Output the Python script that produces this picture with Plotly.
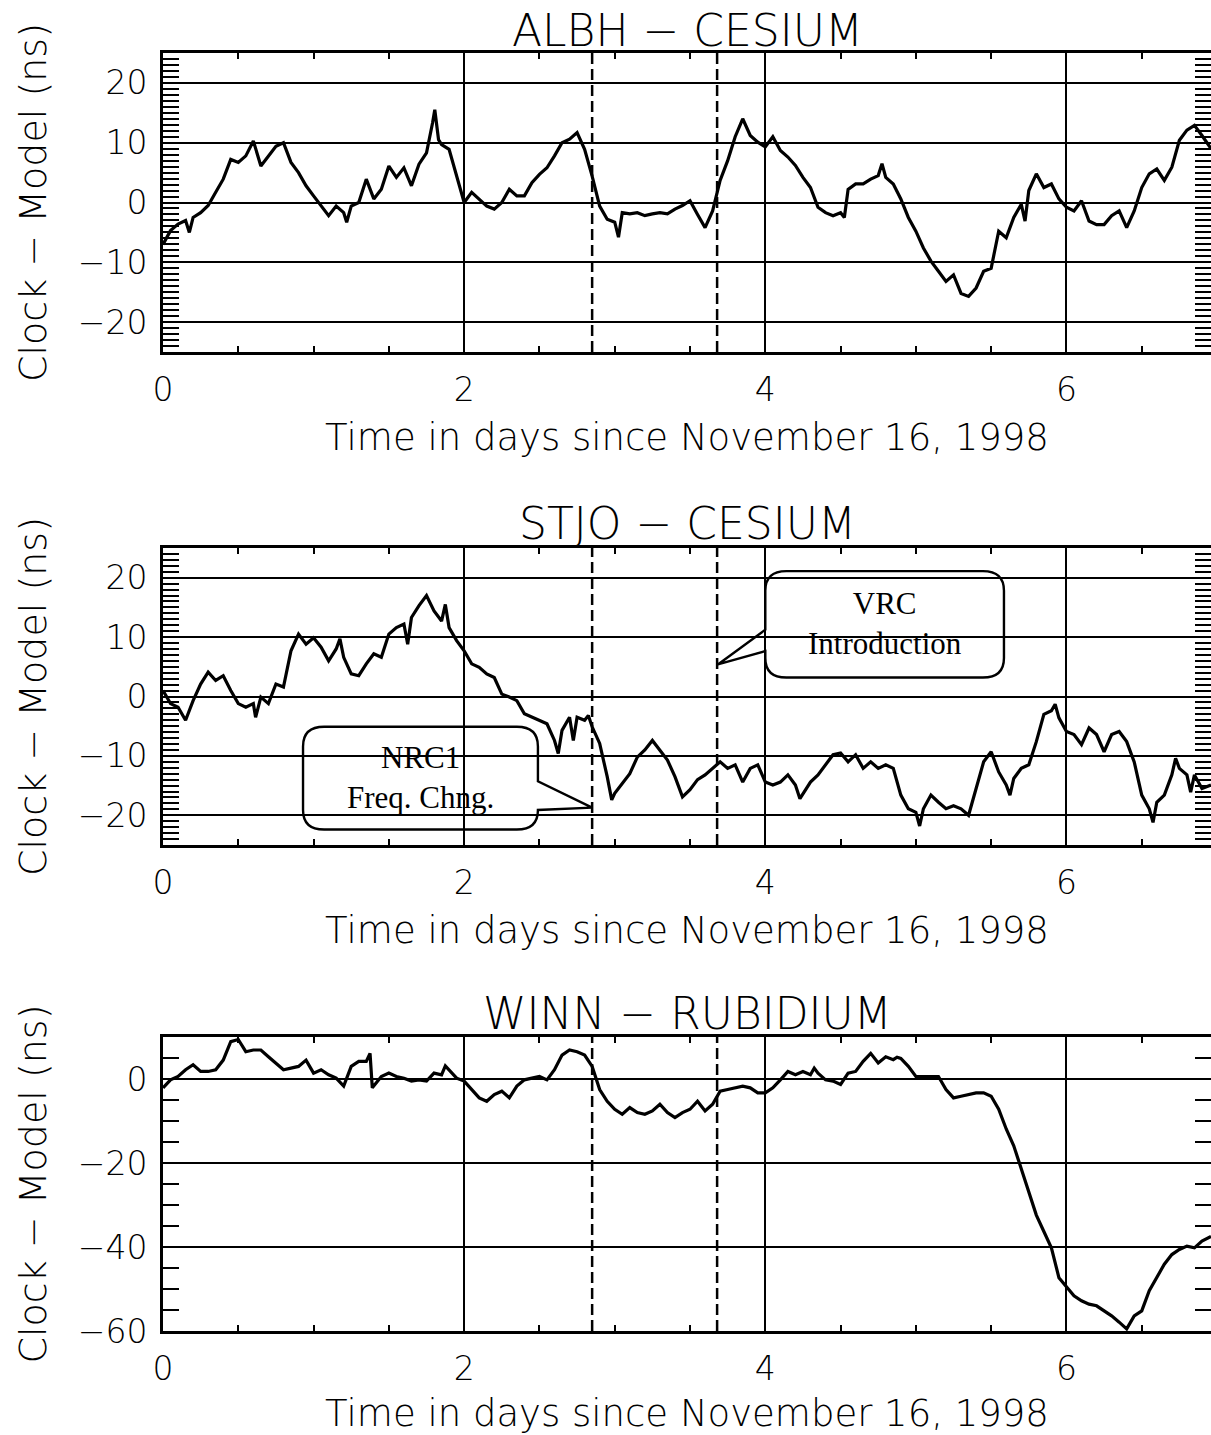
import plotly.graph_objects as go

# ---------------- data ----------------
albh_days = [0, 0.05, 0.10, 0.15, 0.175, 0.2, 0.25, 0.3, 0.35, 0.4, 0.45, 0.5, 0.55, 0.6, 0.65, 0.7,
             0.75, 0.8, 0.85, 0.9, 0.95, 1.0, 1.05, 1.1, 1.15, 1.2, 1.22, 1.25, 1.3, 1.35, 1.4, 1.45,
             1.5, 1.55, 1.6, 1.65, 1.7, 1.75, 1.79, 1.805, 1.83, 1.85, 1.9, 1.95, 2.0, 2.05, 2.1, 2.15,
             2.2, 2.25, 2.3, 2.35, 2.4, 2.45, 2.5, 2.55, 2.6, 2.65, 2.7, 2.75, 2.8, 2.85, 2.9, 2.95,
             3.0, 3.025, 3.05, 3.1, 3.15, 3.2, 3.25, 3.3, 3.35, 3.4, 3.45, 3.5, 3.55, 3.6, 3.65, 3.7,
             3.75, 3.8, 3.85, 3.9, 3.95, 4.0, 4.05, 4.1, 4.15, 4.2, 4.25, 4.3, 4.35, 4.4, 4.45, 4.5,
             4.525, 4.55, 4.6, 4.65, 4.7, 4.75, 4.775, 4.8, 4.85, 4.9, 4.95, 5.0, 5.05, 5.1, 5.15, 5.2,
             5.25, 5.3, 5.35, 5.4, 5.45, 5.5, 5.55, 5.6, 5.65, 5.7, 5.725, 5.75, 5.8, 5.85, 5.9, 5.95,
             6.0, 6.05, 6.1, 6.15, 6.2, 6.25, 6.3, 6.35, 6.4, 6.45, 6.5, 6.55, 6.6, 6.65, 6.7, 6.75,
             6.8, 6.85, 6.9, 6.96]
albh_ns = [-7.0, -4.7, -3.6, -3.0, -5.0, -2.5, -1.7, -0.5, 1.7, 3.9, 7.2, 6.7, 7.8, 10.3, 6.1, 7.8,
           9.4, 10.0, 6.7, 5.0, 2.8, 1.1, -0.6, -2.2, -0.6, -1.7, -3.3, -0.6, 0.0, 3.9, 0.6, 2.2,
           6.1, 4.2, 5.8, 2.8, 6.4, 8.3, 13.3, 15.5, 10.5, 9.7, 8.9, 4.4, 0.0, 1.7, 0.6, -0.6,
           -1.1, 0.0, 2.2, 1.1, 1.1, 3.3, 4.7, 5.8, 7.8, 10.0, 10.6, 11.7, 8.9, 4.4, -0.6, -2.8,
           -3.3, -5.8, -1.7, -1.9, -1.7, -2.2, -1.9, -1.7, -1.9, -1.1, -0.5, 0.3, -2.0, -4.2, -1.4, 3.7,
           7.0, 11.0, 14.0, 11.2, 10.1, 9.3, 11.0, 8.7, 7.6, 6.2, 4.2, 2.5, -0.8, -1.7, -2.2, -1.7,
           -2.5, 2.2, 3.1, 3.1, 3.9, 4.5, 6.5, 4.2, 3.1, 0.6, -2.5, -4.8, -7.6, -9.8, -11.5, -13.2,
           -12.1, -15.2, -15.7, -14.3, -11.5, -11.0, -4.8, -5.9, -2.5, -0.3, -3.1, 2.0, 4.8, 2.5, 3.1, 0.6,
           -0.8, -1.4, 0.3, -3.1, -3.7, -3.7, -2.2, -1.4, -4.2, -1.4, 2.5, 4.8, 5.6, 3.7, 5.9, 10.4,
           12.1, 12.9, 11.2, 9.0]

stjo_days = [0, 0.05, 0.1, 0.15, 0.2, 0.25, 0.3, 0.35, 0.4, 0.45, 0.5, 0.55, 0.6, 0.615, 0.65, 0.7,
             0.75, 0.8, 0.85, 0.9, 0.95, 1.0, 1.05, 1.1, 1.15, 1.175, 1.2, 1.25, 1.3, 1.35, 1.4, 1.45,
             1.5, 1.55, 1.6, 1.625, 1.65, 1.7, 1.75, 1.8, 1.85, 1.875, 1.9, 1.95, 2.0, 2.05, 2.1, 2.15,
             2.2, 2.25, 2.3, 2.35, 2.4, 2.45, 2.5, 2.55, 2.6, 2.625, 2.65, 2.7, 2.725, 2.75, 2.8, 2.825,
             2.85, 2.9, 2.95, 2.98, 3.0, 3.05, 3.1, 3.15, 3.2, 3.25, 3.3, 3.35, 3.4, 3.45, 3.5, 3.55,
             3.6, 3.65, 3.7, 3.75, 3.8, 3.85, 3.9, 3.95, 4.0, 4.05, 4.1, 4.15, 4.2, 4.23, 4.3, 4.35,
             4.4, 4.45, 4.5, 4.55, 4.6, 4.65, 4.7, 4.75, 4.8, 4.85, 4.9, 4.95, 5.0, 5.025, 5.05, 5.1,
             5.15, 5.2, 5.25, 5.3, 5.35, 5.4, 5.45, 5.5, 5.55, 5.6, 5.625, 5.65, 5.7, 5.75, 5.8, 5.85,
             5.9, 5.925, 5.95, 6.0, 6.05, 6.1, 6.15, 6.2, 6.25, 6.3, 6.35, 6.4, 6.45, 6.5, 6.55, 6.575,
             6.6, 6.65, 6.7, 6.725, 6.75, 6.8, 6.825, 6.85, 6.9, 6.96]
stjo_ns = [1.0, -1.2, -1.8, -4.0, -0.7, 2.1, 4.1, 2.7, 3.5, 1.0, -1.2, -1.8, -1.2, -3.5, -0.1, -1.2,
           2.1, 1.6, 7.7, 10.5, 8.8, 9.9, 8.3, 6.0, 8.0, 9.7, 6.6, 3.8, 3.5, 5.5, 7.2, 6.6,
           10.5, 11.6, 12.2, 8.8, 13.3, 15.3, 17.0, 14.4, 12.7, 15.5, 11.6, 9.4, 7.7, 5.5, 4.9, 3.8,
           3.2, 0.4, -0.1, -0.7, -2.9, -3.5, -4.0, -4.6, -7.4, -9.6, -5.7, -3.5, -7.4, -3.5, -4.0, -3.2,
           -5.1, -7.9, -13.5, -17.4, -16.3, -14.6, -13.0, -10.2, -9.0, -7.4, -9.0, -10.7, -13.5, -16.9, -15.7, -14.0,
           -13.2, -12.1, -11.0, -12.1, -11.5, -14.4, -12.1, -11.5, -14.4, -14.9, -14.4, -13.2, -14.9, -17.2, -14.4, -13.2,
           -11.5, -9.8, -9.5, -11.0, -9.8, -12.1, -11.0, -12.1, -11.5, -12.1, -16.6, -18.9, -19.5, -21.8, -18.9, -16.6,
           -17.8, -18.9, -18.4, -18.9, -20.0, -15.5, -11.0, -9.3, -12.7, -14.9, -16.6, -13.8, -12.1, -11.5, -7.6, -3.0,
           -2.4, -1.3, -3.6, -5.9, -6.4, -8.1, -5.3, -6.4, -9.3, -6.4, -5.9, -7.6, -11.0, -16.6, -18.9, -21.2,
           -17.8, -16.6, -13.2, -10.4, -12.1, -13.2, -16.1, -13.2, -15.5, -14.9]

winn_days = [0, 0.05, 0.1, 0.15, 0.2, 0.25, 0.3, 0.35, 0.4, 0.45, 0.5, 0.55, 0.6, 0.65, 0.7, 0.75,
             0.8, 0.85, 0.9, 0.95, 1.0, 1.05, 1.1, 1.15, 1.2, 1.25, 1.3, 1.35, 1.375, 1.39, 1.45, 1.5,
             1.55, 1.6, 1.65, 1.7, 1.75, 1.8, 1.85, 1.875, 1.9, 1.95, 2.0, 2.05, 2.1, 2.15, 2.2, 2.25,
             2.3, 2.35, 2.4, 2.45, 2.5, 2.55, 2.6, 2.65, 2.7, 2.75, 2.8, 2.85, 2.9, 2.95, 3.0, 3.05,
             3.1, 3.15, 3.2, 3.25, 3.3, 3.35, 3.4, 3.45, 3.5, 3.55, 3.6, 3.65, 3.7, 3.75, 3.8, 3.85,
             3.9, 3.95, 4.0, 4.05, 4.1, 4.15, 4.2, 4.25, 4.3, 4.325, 4.35, 4.4, 4.45, 4.5, 4.55, 4.6,
             4.65, 4.7, 4.75, 4.8, 4.85, 4.875, 4.9, 4.95, 5.0, 5.05, 5.1, 5.15, 5.2, 5.25, 5.3, 5.35,
             5.4, 5.45, 5.5, 5.55, 5.6, 5.65, 5.7, 5.75, 5.8, 5.85, 5.9, 5.95, 6.0, 6.05, 6.1, 6.15,
             6.2, 6.25, 6.3, 6.35, 6.4, 6.45, 6.5, 6.55, 6.6, 6.65, 6.7, 6.75, 6.8, 6.85, 6.9, 6.96]
winn_ns = [-2.1, -0.2, 0.6, 2.2, 3.4, 1.8, 1.8, 2.2, 4.5, 8.9, 9.4, 6.5, 6.9, 6.9, 5.3, 3.8,
           2.2, 2.6, 3.0, 4.5, 1.4, 2.2, 1.0, 0.2, -1.7, 3.0, 4.2, 4.2, 6.1, -2.1, 0.6, 1.4,
           0.6, 0.2, -0.5, -0.2, -0.5, 1.4, 1.0, 3.1, 2.2, 0.2, -0.5, -2.5, -4.5, -5.3, -3.7, -2.9,
           -4.5, -1.7, -0.2, 0.2, 0.6, -0.2, 2.2, 5.7, 6.9, 6.5, 5.7, 3.0, -2.5, -5.3, -7.2, -8.4,
           -6.8, -8.0, -8.4, -7.6, -6.0, -8.0, -9.2, -8.0, -7.2, -5.3, -7.6, -6.0, -2.9, -2.5, -2.1, -1.7,
           -2.1, -3.3, -3.3, -2.1, -0.2, 1.8, 1.0, 1.8, 1.0, 2.6, 1.4, -0.2, -0.5, -1.3, 1.4, 1.8,
           4.2, 6.1, 3.8, 5.3, 4.6, 5.2, 4.9, 3.0, 0.6, 0.6, 0.6, 0.6, -2.5, -4.5, -4.1, -3.7,
           -3.3, -3.3, -4.1, -7.2, -11.9, -15.9, -21.4, -26.9, -32.4, -36.3, -40.2, -47.3, -49.6, -51.6, -52.8, -53.6,
           -54.0, -55.2, -56.4, -57.9, -59.5, -56.4, -55.2, -50.4, -47.3, -44.1, -41.8, -40.6, -39.8, -40.2, -38.6, -37.5]

panel_titles = ["ALBH \u2212 CESIUM", "STJO \u2212 CESIUM", "WINN \u2212 RUBIDIUM"]
x_title = "Time in days since November 16, 1998"
y_title = "Clock \u2212 Model (ns)"
x_ticks = [0, 2, 4, 6]
event_days = [2.85, 3.68]

# ---------------- layout geometry ----------------
W, H = 1211, 1435
X_RANGE = [0, 6.96]
panels = [
    # (top px, bottom px, y range, major dtick, minor dtick)
    (53, 352, [-25, 25], 10, 1),
    (548, 845, [-25, 25], 10, 1),
    (1037, 1331, [-60, 10], 20, 5),
]
series = [(albh_days, albh_ns), (stjo_days, stjo_ns), (winn_days, winn_ns)]
title_py = [30, 523, 1013]

SANS = "DejaVu Sans"
SERIF = "Liberation Serif"
LIGHT = 200


def sans(size):
    return dict(family=SANS, size=size, color="black", weight=LIGHT)


fig = go.Figure()
layout = dict(
    width=W, height=H,
    margin=dict(l=163, r=0, t=0, b=0, autoexpand=False),
    paper_bgcolor="white", plot_bgcolor="white",
    showlegend=False,
    font=dict(family=SANS, color="black"),
)

for i, ((top, bot, yr, dt, mdt), (dx, dy)) in enumerate(zip(panels, series)):
    n = "" if i == 0 else str(i + 1)
    fig.add_trace(go.Scatter(x=dx, y=dy, mode="lines",
                             line=dict(color="black", width=3.2),
                             xaxis="x" + n, yaxis="y" + n, hoverinfo="x+y"))
    layout["xaxis" + n] = dict(
        domain=[0, 1], anchor="y" + n, range=X_RANGE, automargin=False,
        tickmode="array", tickvals=x_ticks, ticktext=[str(v) for v in x_ticks],
        ticks="inside", ticklen=6, tickwidth=2, tickcolor="black",
        minor=dict(dtick=0.5, tick0=0, ticks="inside", ticklen=6, tickwidth=2,
                   tickcolor="black", showgrid=False),
        showgrid=True, gridcolor="black", gridwidth=2, zeroline=False,
        showline=True, linecolor="black", linewidth=3, mirror="ticks",
        tickfont=sans(33),
        ticklabelstandoff=6,
        title=dict(text=x_title, font=sans(37), standoff=17),
    )
    layout["yaxis" + n] = dict(
        domain=[1 - bot / H, 1 - top / H], anchor="x" + n, range=yr, automargin=False,
        dtick=dt, tick0=0,
        ticks="inside", ticklen=16, tickwidth=2, tickcolor="black",
        minor=dict(dtick=mdt, tick0=0, ticks="inside", ticklen=16, tickwidth=2,
                   tickcolor="black", showgrid=False),
        showgrid=True, gridcolor="black", gridwidth=2, zeroline=False,
        showline=True, linecolor="black", linewidth=3, mirror="ticks",
        tickfont=sans(33),
        ticklabelstandoff=6,
        title=dict(text=y_title, font=sans(38), standoff=20),
    )

annotations = []
shapes = []
for i, t in enumerate(panel_titles):
    annotations.append(dict(text=t, xref="paper", yref="paper", x=0.5, y=1 - title_py[i] / H,
                            xanchor="center", yanchor="middle", showarrow=False,
                            font=sans(44)))
    n = "" if i == 0 else str(i + 1)
    for d in event_days:
        shapes.append(dict(type="line", xref="x" + n, yref="y" + n + " domain",
                           x0=d, x1=d, y0=0, y1=1,
                           line=dict(color="black", width=2.5, dash="11px,5px")))


# ---------------- callout boxes on the STJO panel (data coords) ----------------
def callout_path(x0, x1, y0, y1, rx, ry, side, tip):
    tx, ty = tip
    p = [f"M {x0 + rx},{y1}", f"L {x1 - rx},{y1}", f"Q {x1},{y1} {x1},{y1 - ry}"]
    if side == "right":
        a_top = y1 - ry - (y1 - y0 - 2 * ry) * 0.55
        p += [f"L {x1},{a_top}", f"L {tx},{ty}", f"L {x1},{y0 + ry}"]
    p += [f"L {x1},{y0 + ry}", f"Q {x1},{y0} {x1 - rx},{y0}", f"L {x0 + rx},{y0}",
          f"Q {x0},{y0} {x0},{y0 + ry}"]
    if side == "left":
        a_bot = y0 + ry + (y1 - y0 - 2 * ry) * 0.10
        a_top = y0 + ry + (y1 - y0 - 2 * ry) * 0.42
        p += [f"L {x0},{a_bot}", f"L {tx},{ty}", f"L {x0},{a_top}"]
    p += [f"L {x0},{y1 - ry}", f"Q {x0},{y1} {x0 + rx},{y1}", "Z"]
    return " ".join(p)


nrc_box = dict(x0=0.93, x1=2.49, y0=-22.4, y1=-5.1, tip=(2.85, -18.7))
vrc_box = dict(x0=4.0, x1=5.585, y0=3.2, y1=21.1, tip=(3.685, 5.4))
RX, RY = 0.14, 3.3

shapes.append(dict(type="path", xref="x2", yref="y2",
                   path=callout_path(nrc_box["x0"], nrc_box["x1"], nrc_box["y0"], nrc_box["y1"],
                                     RX, RY, "right", nrc_box["tip"]),
                   line=dict(color="black", width=2.4), fillcolor="rgba(0,0,0,0)"))
shapes.append(dict(type="path", xref="x2", yref="y2",
                   path=callout_path(vrc_box["x0"], vrc_box["x1"], vrc_box["y0"], vrc_box["y1"],
                                     RX, RY, "left", vrc_box["tip"]),
                   line=dict(color="black", width=2.4), fillcolor="rgba(0,0,0,0)"))

annotations.append(dict(text="NRC1<br>Freq. Chng.", xref="x2", yref="y2",
                        x=(nrc_box["x0"] + nrc_box["x1"]) / 2, y=-13.7,
                        showarrow=False, align="center",
                        font=dict(family=SERIF, size=31, color="black")))
annotations.append(dict(text="VRC<br>Introduction", xref="x2", yref="y2",
                        x=(vrc_box["x0"] + vrc_box["x1"]) / 2, y=12.3,
                        showarrow=False, align="center",
                        font=dict(family=SERIF, size=31, color="black")))

layout["annotations"] = annotations
layout["shapes"] = shapes
fig.update_layout(**layout)
fig.write_html("out.html", config={"displayModeBar": False},
               post_script="document.body.style.margin='0';document.body.style.overflow='hidden';")
